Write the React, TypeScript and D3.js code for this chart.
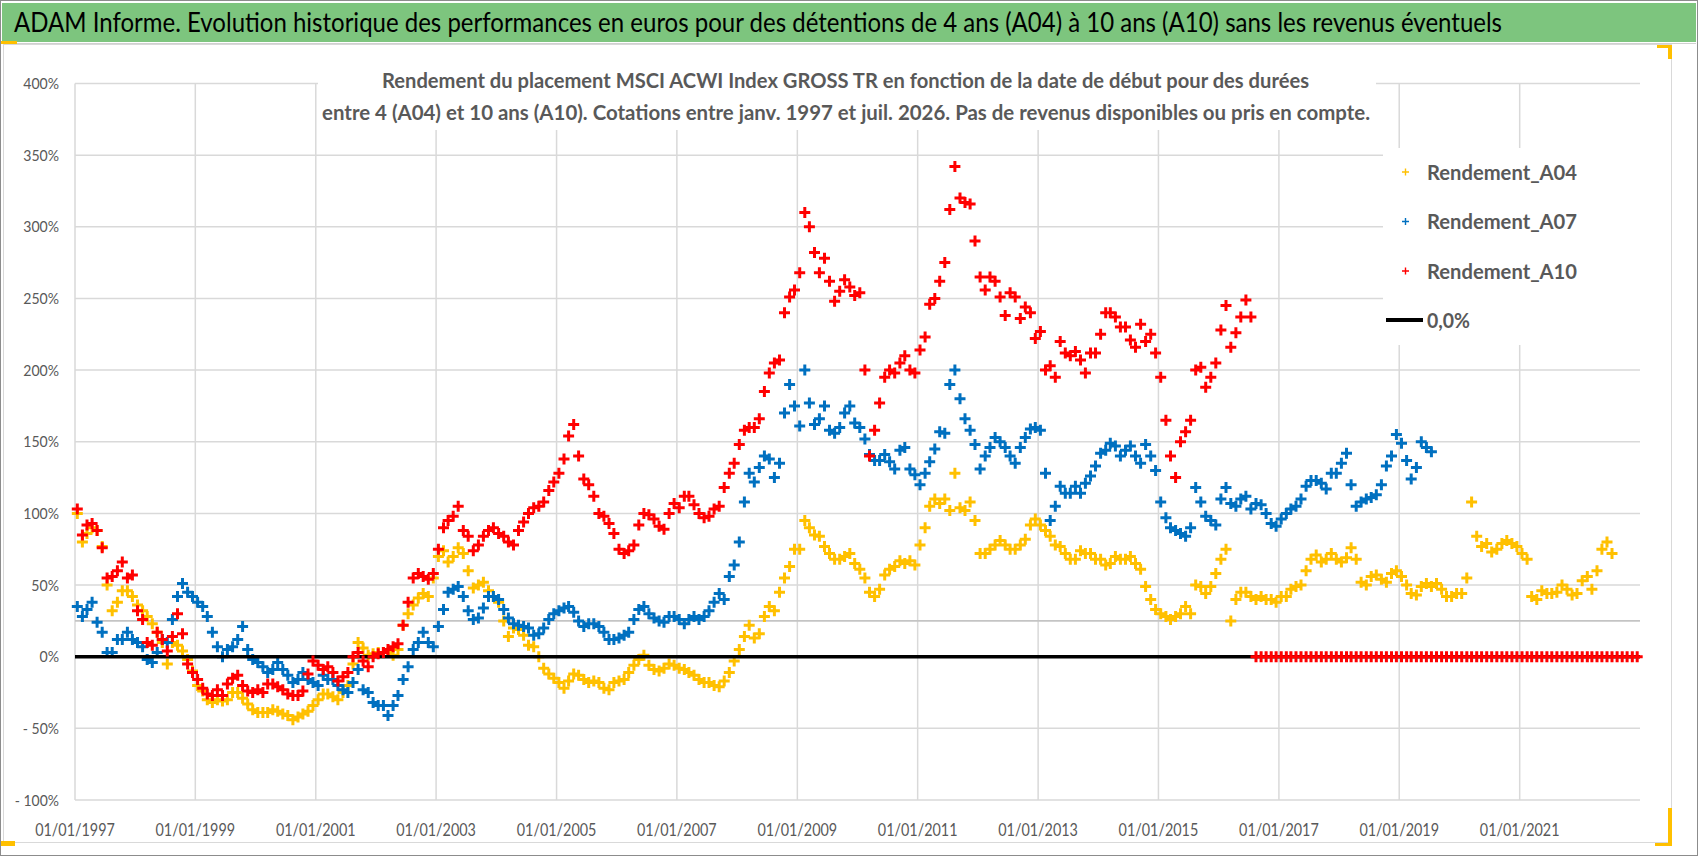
import React from "react";
import * as d3 from "d3";

// monthly readings (percent), first value = January 1997
const startYear = 1997;

const rendementA04 = [
  100, 80, 86, 90, 88, 77, 50, 32, 38, 46, 46, 42,
  36, 32, 28, 23, 17, 10, -5, 10, 8, 4, -2, -10,
  -20, -24, -30, -32, -30, -31, -30, -25, -25, -29, -33, -37,
  -39, -39, -39, -37, -38, -40, -41, -44, -42, -40, -38, -34,
  -30, -26, -26, -28, -30, -25, -20, -5, 10, 6, 1, 2,
  3, 3, 3, 1, 5, 22, 30, 36, 41, 44, 42, 55,
  70, 74, 66, 70, 76, 72, 60, 48, 50, 52, 46, 42,
  38, 25, 14, 20, 19, 15, 8, 7, 0, -8, -12, -15,
  -18, -22, -17, -12, -13, -16, -18, -17, -18, -22, -23, -18,
  -17, -16, -11, -6, -2, 1, -6, -9, -10, -8, -5, -6,
  -8, -9, -11, -13, -16, -18, -18, -20, -21, -17, -11, -3,
  5, 14, 22, 13, 16, 28, 35, 32, 45, 55, 63, 75,
  75, 95, 90, 85, 84, 77, 72, 68, 68, 70, 72, 65,
  61, 55, 45, 42, 47, 57, 61, 63, 67, 65, 67, 64,
  78, 90, 105, 110, 107, 110, 102, 128, 104, 102, 108, 95,
  72, 72, 75, 78, 81, 78, 75, 75, 78, 82, 92, 96,
  92, 88, 84, 78, 77, 72, 68, 68, 74, 72, 72, 68,
  68, 64, 65, 70, 68, 68, 70, 65, 61, 49, 40, 33,
  30, 28, 26, 28, 30, 35, 30, 50, 49, 44, 49, 58,
  68, 75, 25, 40, 45, 45, 42, 40, 42, 40, 40, 38,
  42, 42, 47, 49, 50, 60, 68, 71, 66, 68, 72, 68,
  66, 69, 76, 68, 52, 50, 56, 57, 54, 52, 58, 60,
  56, 50, 44, 43, 49, 51, 49, 51, 47, 42, 42, 44,
  44, 55, 108, 84, 77, 79, 73, 75, 79, 81, 79, 77,
  72, 68, 42, 40, 46, 44, 44, 45, 50, 47, 43, 44,
  53, 56, 47, 60, 75, 80, 72,
];

const rendementA07 = [
  35, 28, 33, 38, 24, 17, 3, 3, 12, 12, 17, 12,
  10, 7, -2, -4, 3, 12, 10, 26, 42, 51, 45, 42,
  38, 35, 28, 17, 7, 0, 5, 7, 12, 21, 5, -2,
  -4, -7, -11, -9, -4, -9, -13, -18, -16, -11, -16, -18,
  -20, -13, -16, -16, -20, -23, -25, -18, -9, -23, -25, -32,
  -34, -34, -41, -34, -27, -16, -7, 5, 10, 17, 10, 7,
  21, 33, 45, 47, 49, 42, 32, 26, 27, 34, 42, 42,
  40, 33, 27, 23, 22, 21, 20, 15, 16, 20, 26, 30,
  32, 34, 35, 31, 25, 21, 23, 23, 21, 17, 12, 12,
  13, 15, 17, 26, 33, 35, 30, 27, 25, 24, 28, 28,
  26, 23, 26, 28, 26, 28, 32, 38, 44, 40, 56, 64,
  80, 108, 128, 122, 132, 140, 138, 125, 135, 170, 190, 175,
  161, 200, 177, 162, 166, 175, 158, 156, 160, 170, 175, 163,
  160, 152, 141, 137, 137, 141, 136, 131, 144, 146, 131, 127,
  120, 128, 136, 145, 157, 156, 190, 200, 180, 166, 158, 148,
  131, 140, 146, 153, 150, 146, 140, 135, 146, 153, 159, 160,
  158, 128, 95, 105, 119, 114, 114, 119, 114, 121, 126, 133,
  142, 144, 149, 147, 140, 144, 147, 140, 135, 148, 140, 130,
  108, 97, 90, 88, 86, 84, 90, 118, 108, 98, 95, 92,
  110, 118, 107, 105, 110, 112, 103, 107, 106, 100, 93, 91,
  96, 100, 103, 105, 110, 119, 123, 123, 121, 117, 128, 128,
  135, 142, 120, 105, 108, 110, 111, 113, 120, 133, 140, 155,
  149, 137, 124, 132, 150, 146, 143,
];

const rendementA10 = [
  103, 85, 92, 93, 88, 76, 55, 56, 60, 66, 55, 57,
  32, 26, 10, 8, 17, 12, 4, 14, 30, 16, -5, -11,
  -16, -22, -26, -27, -23, -27, -19, -15, -13, -20, -24, -25,
  -23, -25, -19, -19, -21, -23, -26, -27, -27, -24, -12, -3,
  -6, -9, -7, -11, -17, -14, -11, 0, 3, -3, -7, 0,
  2, 3, 5, 7, 9, 22, 38, 55, 58, 56, 54, 58,
  75, 90, 95, 98, 105, 88, 84, 74, 78, 84, 88, 90,
  86, 84, 80, 78, 88, 94, 100, 104, 105, 108, 116, 122,
  128, 138, 154, 162, 140, 124, 120, 112, 100, 98, 93, 86,
  75, 72, 74, 78, 92, 100, 99, 96, 91, 89, 100, 107,
  104, 112, 112, 106, 100, 97, 98, 103, 105, 118, 128, 135,
  148, 158, 160, 160, 166, 185, 198, 205, 207, 240, 251, 256,
  268, 310, 300, 282, 268, 278, 262, 248, 255, 263, 258, 252,
  254, 200, 140, 158, 177, 195, 200, 198, 205, 210, 200, 198,
  214, 223, 246, 250, 262, 275, 312, 342, 320, 317, 316, 290,
  265, 256, 265, 262, 251, 238, 254, 251, 236, 244, 240, 222,
  227, 200, 203, 195, 220, 212, 210, 213, 207, 198, 212, 212,
  225, 240, 240, 237, 230, 230, 221, 216, 232, 220, 225, 212,
  195, 165, 140, 125, 150, 157, 165, 200, 202, 188, 195, 205,
  228, 245, 216, 226, 237, 249, 237, 0, 0, 0, 0, 0,
  0, 0, 0, 0, 0, 0, 0, 0, 0, 0, 0, 0,
  0, 0, 0, 0, 0, 0, 0, 0, 0, 0, 0, 0,
  0, 0, 0, 0, 0, 0, 0, 0, 0, 0, 0, 0,
  0, 0, 0, 0, 0, 0, 0, 0, 0, 0, 0, 0,
  0, 0, 0, 0, 0, 0, 0, 0, 0, 0, 0, 0,
  0, 0, 0, 0, 0, 0, 0, 0, 0, 0, 0, 0,
];

const seriesNames = ["Rendement_A04", "Rendement_A07", "Rendement_A10"];
const seriesColors = ["#FFC000", "#0070C0", "#FF0000"];
const zeroLabel = "0,0%";

const yTicks = [-100, -50, 0, 50, 100, 150, 200, 250, 300, 350, 400];
const yTickLabels = ["- 100%", "- 50%", "0%", "50%", "100%", "150%", "200%", "250%", "300%", "350%", "400%"];
const xTickYears = [1997, 1999, 2001, 2003, 2005, 2007, 2009, 2011, 2013, 2015, 2017, 2019, 2021];

const title =
  "ADAM Informe. Evolution historique des performances en euros pour des détentions de 4 ans (A04) à 10 ans (A10) sans les revenus éventuels";
const subtitle1 =
  "Rendement du placement MSCI ACWI Index GROSS TR en fonction de la date de début pour des durées";
const subtitle2 =
  "entre 4 (A04) et 10 ans (A10).  Cotations entre janv. 1997 et juil. 2026. Pas de revenus disponibles ou pris en compte.";

const W = 1698;
const H = 856;
const FONT = "Lato, 'Open Sans', 'DejaVu Sans', sans-serif";

// rough Calibri advance widths, used to size the axis labels
const calibri = (s: string, size: number) => {
  let w = 0;
  for (const c of s) {
    if (c >= "0" && c <= "9") w += 0.507;
    else if (c === "%") w += 0.715;
    else if (c === "-") w += 0.306;
    else if (c === " ") w += 0.226;
    else if (c === "/") w += 0.386;
    else w += 0.5;
  }
  return w * size;
};

const monthDate = (i: number) => new Date(startYear + Math.floor(i / 12), i % 12, 15);

export default function App() {
  const x = d3.scaleTime().domain([new Date(1997, 0, 1), new Date(2023, 0, 1)]).range([75, 1640]);
  const y = d3.scaleLinear().domain([-100, 400]).range([800, 83.5]);

  const cross = (vals: number[], h: number) =>
    vals
      .map((v, i) => {
        const cx = x(monthDate(i));
        const cy = y(v);
        return `M${(cx - h).toFixed(1)},${cy.toFixed(1)}h${2 * h}M${cx.toFixed(1)},${(cy - h).toFixed(1)}v${2 * h}`;
      })
      .join("");

  const series = [rendementA04, rendementA07, rendementA10];
  const [x0, x1] = x.range();
  const mk = 5.5;
  const sw = 3;

  return (
    <svg
      width={W}
      height={H}
      style={{ position: "absolute", left: 0, top: 0, display: "block", background: "#fff" }}
      fontFamily={FONT}
    >
      {/* frame */}
      <rect x={0.5} y={0.5} width={W - 1} height={H - 1} fill="#fff" stroke="#8c8c8c" />
      <rect x={2} y={3} width={W - 4} height={39} fill="#7DC57E" />
      <line x1={2} x2={W - 2} y1={43.5} y2={43.5} stroke="#d0d0d0" />
      <rect x={3.5} y={44.5} width={1668} height={798} fill="#fff" stroke="#d9d9d9" />
      <rect x={1} y={41} width={16} height={3} fill="#FFC000" />
      <rect x={1} y={841} width={14} height={5} fill="#FFC000" />
      <rect x={1668} y={45} width={4} height={14} fill="#FFC000" />
      <rect x={1657} y={45} width={15} height={3} fill="#FFC000" />
      <rect x={1668} y={808} width={4} height={38} fill="#FFC000" />
      <rect x={1655} y={843} width={17} height={3} fill="#FFC000" />

      <text x={14} y={32} fontSize={27} fill="#000" textLength={1488} lengthAdjust="spacingAndGlyphs">
        {title}
      </text>

      {/* grid */}
      {yTicks.map((t) => (
        <line key={"gy" + t} x1={x0} x2={x1} y1={y(t)} y2={y(t)} stroke="#d9d9d9" strokeWidth={1.5} />
      ))}
      {xTickYears.map((yr) => (
        <line
          key={"gx" + yr}
          x1={x(new Date(yr, 0, 1))}
          x2={x(new Date(yr, 0, 1))}
          y1={y(400)}
          y2={y(-100)}
          stroke="#d9d9d9"
          strokeWidth={1.5}
        />
      ))}
      <line x1={x0} x2={x1} y1={y(25)} y2={y(25)} stroke="#c4c4c4" strokeWidth={1.6} />

      {/* axis labels */}
      {yTicks.map((t, i) => {
        const w = calibri(yTickLabels[i], 16);
        return (
          <text
            key={"ly" + t}
            x={59 - w}
            y={y(t) + 5.5}
            fontSize={16}
            fill="#595959"
            textLength={w}
            lengthAdjust="spacingAndGlyphs"
          >
            {yTickLabels[i]}
          </text>
        );
      })}
      {xTickYears.map((yr) => {
        const label = d3.timeFormat("%d/%m/%Y")(new Date(yr, 0, 1));
        const w = calibri(label, 16.5);
        return (
          <text
            key={"lx" + yr}
            x={x(new Date(yr, 0, 1)) - w / 2}
            y={836}
            fontSize={16.5}
            fill="#595959"
            textLength={w}
            lengthAdjust="spacingAndGlyphs"
          >
            {label}
          </text>
        );
      })}

      {/* series */}
      <path d={cross(series[0], mk)} stroke={seriesColors[0]} strokeWidth={sw} fill="none" />
      <path d={cross(series[1], mk)} stroke={seriesColors[1]} strokeWidth={sw} fill="none" />
      <line x1={x0} x2={x1} y1={y(0)} y2={y(0)} stroke="#000" strokeWidth={3.6} />
      <path d={cross(series[2], mk)} stroke={seriesColors[2]} strokeWidth={sw} fill="none" />

      {/* subtitle */}
      <rect x={318} y={60} width={1058} height={70} fill="#fff" />
      <text x={382} y={88} fontSize={21.5} fontWeight="bold" fill="#595959" textLength={927} lengthAdjust="spacingAndGlyphs">
        {subtitle1}
      </text>
      <text x={322} y={120} fontSize={21.5} fontWeight="bold" fill="#595959" textLength={1048} lengthAdjust="spacingAndGlyphs">
        {subtitle2}
      </text>

      {/* legend */}
      <rect x={1383} y={148} width={262} height={197} fill="#fff" />
      {seriesNames.map((name, i) => {
        const cy = 172 + i * 49.5;
        return (
          <g key={name}>
            <path d={`M1402,${cy}h7M1405.5,${cy - 3.5}v7`} stroke={seriesColors[i]} strokeWidth={1.4} />
            <text x={1427} y={cy + 7.5} fontSize={21.5} fontWeight="bold" fill="#595959" textLength={150} lengthAdjust="spacingAndGlyphs">
              {name}
            </text>
          </g>
        );
      })}
      <line x1={1386} x2={1423} y1={320} y2={320} stroke="#000" strokeWidth={4} />
      <text x={1427} y={327.5} fontSize={21.5} fontWeight="bold" fill="#595959" textLength={43} lengthAdjust="spacingAndGlyphs">
        {zeroLabel}
      </text>
    </svg>
  );
}
